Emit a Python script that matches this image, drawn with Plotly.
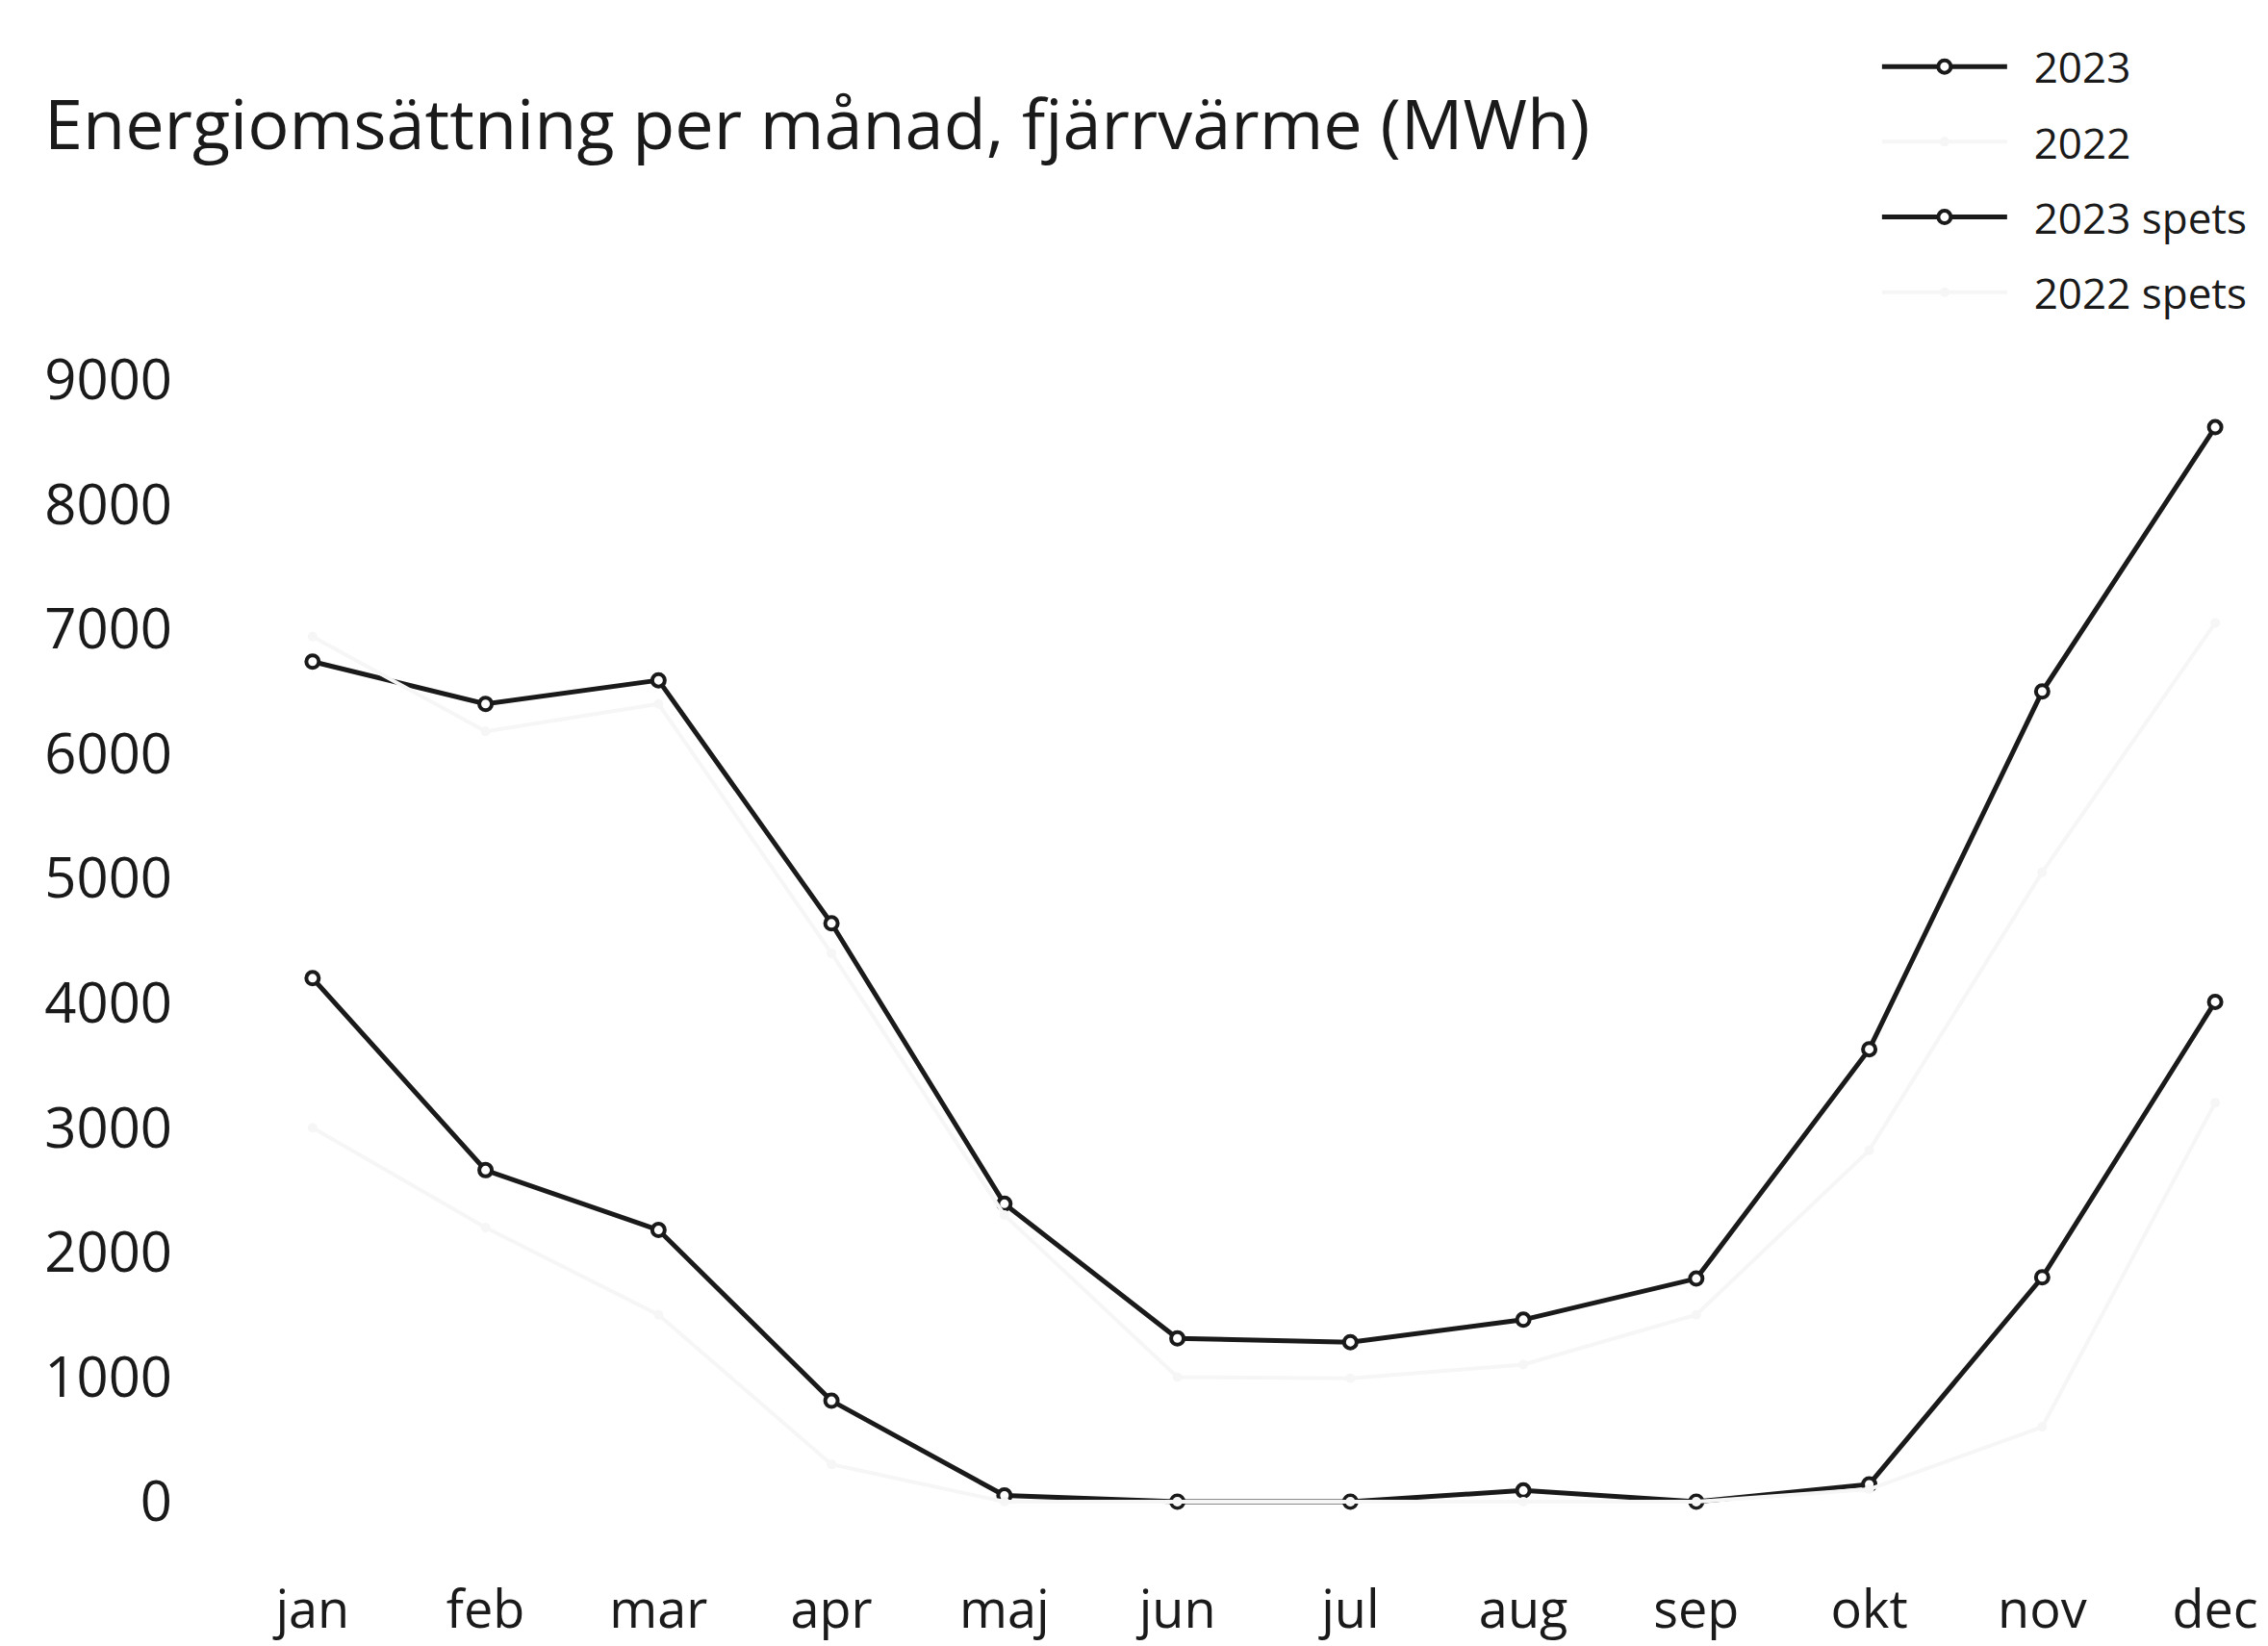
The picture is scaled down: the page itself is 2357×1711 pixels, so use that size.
import plotly.graph_objects as go

months = ["jan", "feb", "mar", "apr", "maj", "jun", "jul", "aug", "sep", "okt", "nov", "dec"]
y2023 = [6740, 6400, 6590, 4640, 2390, 1310, 1280, 1460, 1790, 3630, 6500, 8620]
y2022 = [6940, 6180, 6400, 4400, 2300, 1000, 990, 1100, 1500, 2820, 5050, 7050]
y2023_spets = [4200, 2660, 2180, 810, 50, 0, 0, 90, 0, 140, 1800, 4010]
y2022_spets = [3000, 2200, 1500, 300, 0, 0, 0, 0, 0, 100, 600, 3200]
series_names = ["2023", "2022", "2023 spets", "2022 spets"]
yticks = [0, 1000, 2000, 3000, 4000, 5000, 6000, 7000, 8000, 9000]

FONT = "Open Sans"
INK = "#1a1a1a"
FAINT = "#f6f6f6"

fig = go.Figure()
data = [y2023, y2022, y2023_spets, y2022_spets]
for i, (name, vals) in enumerate(zip(series_names, data)):
    strong = i % 2 == 0
    if strong:
        line = dict(color=INK, width=5)
        marker = dict(symbol="circle", size=13, color="white", line=dict(color=INK, width=4))
    else:
        line = dict(color=FAINT, width=4)
        marker = dict(symbol="circle", size=10, color=FAINT)
    fig.add_trace(go.Scatter(
        x=months, y=vals, name="&nbsp;&nbsp;" + name, mode="lines+markers",
        legendgroup=str(i), line=line, marker=marker,
    ))

fig.update_layout(
    width=2357, height=1711,
    paper_bgcolor="white", plot_bgcolor="white",
    margin=dict(l=200, r=0, t=348, b=88),
    font=dict(family=FONT, color=INK),
    title=dict(
        text="Energiomsättning per månad, fjärrvärme (MWh)",
        x=38 / 2357, xanchor="left", xref="container",
        y=1 - 122 / 1711, yanchor="middle", yref="container",
        font=dict(family=FONT, size=72, color=INK),
    ),
    showlegend=True,
    legend=dict(
        x=0.808, xanchor="left", y=1.2525, yanchor="top",
        font=dict(family=FONT, size=44, color=INK),
        itemwidth=130, tracegroupgap=18, traceorder="grouped",
        bgcolor="rgba(0,0,0,0)",
    ),
    xaxis=dict(
        type="category", range=[-0.65, 11.35],
        showgrid=False, zeroline=False, showline=False, ticks="",
        tickfont=dict(family=FONT, size=54, color=INK),
        ticklabelstandoff=6,
    ),
    yaxis=dict(
        range=[-540, 9300], tickvals=yticks, ticktext=[str(v) for v in yticks],
        showgrid=False, zeroline=False, showline=False, ticks="",
        tickfont=dict(family=FONT, size=58, color=INK),
        ticklabelstandoff=28,
    ),
)

fig.write_html("out.html")
